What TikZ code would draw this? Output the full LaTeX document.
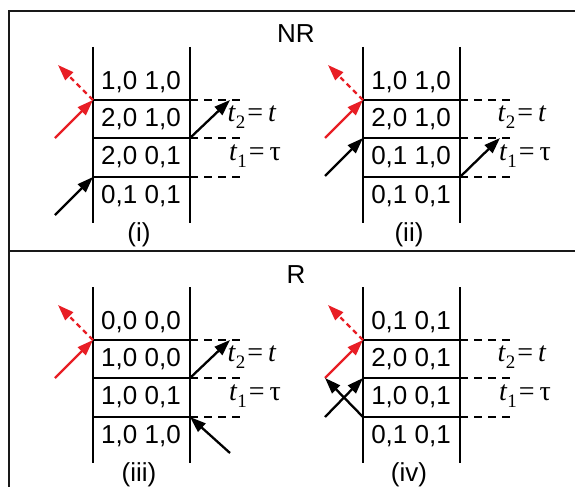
\documentclass[tikz,border=0pt]{standalone}
\usepackage{fontspec}
\setmainfont{Liberation Sans}
\newfontfamily\serifLib{Liberation Serif}
\usetikzlibrary{arrows.meta}
\definecolor{myred}{RGB}{232,30,37}
\newcommand\tsub[2]{\textit{#1}\raisebox{-7pt}{\fontsize{19}{19}\selectfont #2}\hspace{2pt}=\hspace{5pt}}
\newcommand\drawpanel[8]{%
 \begin{scope}[shift={(#1,#2)}]
  \coordinate (#3LT) at (93,47);  \coordinate (#3LE) at (93,223);
  \coordinate (#3RT) at (190,47); \coordinate (#3RE) at (190,223);
  \coordinate (#3LA) at (93,100); \coordinate (#3RA) at (190,100); \coordinate (#3EA) at (242,100);
  \coordinate (#3LB) at (93,138); \coordinate (#3RB) at (190,138); \coordinate (#3EB) at (242,138);
  \coordinate (#3LC) at (93,177); \coordinate (#3RC) at (190,177); \coordinate (#3EC) at (242,177);
  \draw[wall] (#3LT) -- (#3LE);
  \draw[wall] (#3RT) -- (#3RE);
  \draw[wall] (#3LA) -- (#3RA); \draw[ext] (#3RA) -- (#3EA);
  \draw[wall] (#3LB) -- (#3RB); \draw[ext] (#3RB) -- (#3EB);
  \draw[wall] (#3LC) -- (#3RC); \draw[ext] (#3RC) -- (#3EC);
  \node[cell] (#3r1) at (141,82) {#4};
  \node[cell] (#3r2) at (141,119.5) {#5};
  \node[cell] (#3r3) at (141,157.5) {#6};
  \node[cell] (#3r4) at (141,196.5) {#7};
  \node[cell] (#3lab) at (139,235) {#8};
  \node[tlab] (#3t2) at (252,117) {\tsub{t}{2}\textit{t}};
  \node[tlab] (#3t1) at (255,156) {\tsub{t}{1}τ};
  \coordinate (#3redS) at (55,138);
  \coordinate (#3redE) at (58,65);
  \draw[photon, myred] (#3redS) -- (#3LA);
  \draw[photon, myred, dash pattern=on 5pt off 4pt] (#3LA) -- (#3redE);
 \end{scope}}
\begin{document}
\begin{tikzpicture}[x=1pt,y=-1pt,
  frame/.style={line width=2.8pt, black!90},
  wall/.style={line width=2.5pt, line cap=butt},
  ext/.style={line width=2.3pt, dash pattern=on 8pt off 6pt},
  cell/.style={font=\fontsize{26}{30}\selectfont, inner sep=0pt},
  tlab/.style={font=\serifLib\fontsize{28}{30}\selectfont, inner sep=0pt},
  photon/.style={line width=2.3pt, -{Triangle[length=16pt,width=11pt]}},
  title/.style={font=\fontsize{26}{30}\selectfont, inner sep=0pt}]
\useasboundingbox (0,0) rectangle (575,487);
% frame
\coordinate (fTL) at (9,11);
\coordinate (fTR) at (575,11);
\coordinate (fML) at (9,251);
\coordinate (fMR) at (575,251);
\coordinate (fBL) at (9,487);
\draw[frame] (fTR) -- (fTL) -- (fBL);
\draw[frame] (fML) -- (fMR);
\node[title] (NR) at (296,34) {NR};
\node[title] (R) at (296,275) {R};
% panels
\drawpanel{0}{0}{p1}{1,0 1,0}{2,0 1,0}{2,0 0,1}{0,1 0,1}{(i)}
\drawpanel{270}{0}{p2}{1,0 1,0}{2,0 1,0}{0,1 1,0}{0,1 0,1}{(ii)}
\drawpanel{0}{240}{p3}{0,0 0,0}{1,0 0,0}{1,0 0,1}{1,0 1,0}{(iii)}
\drawpanel{270}{240}{p4}{0,1 0,1}{2,0 0,1}{1,0 0,1}{0,1 0,1}{(iv)}
% panel (i) black photons
\coordinate (p1in) at (55,215);
\coordinate (p1out) at (230,100);
\draw[photon] (p1in) -- (p1LC);
\draw[photon] (p1RB) -- (p1out);
% panel (ii)
\coordinate (p2in) at (325,176);
\coordinate (p2out) at (500,138);
\draw[photon] (p2in) -- (p2LB);
\draw[photon] (p2RC) -- (p2out);
% panel (iii)
\coordinate (p3out) at (230,340);
\coordinate (p3in) at (230,453);
\draw[photon] (p3RB) -- (p3out);
\draw[photon] (p3in) -- (p3RC);
% panel (iv)
\coordinate (p4in) at (325,417);
\coordinate (p4out) at (325,378);
\draw[photon] (p4in) -- (p4LB);
\draw[photon] (p4LC) -- (p4out);
\end{tikzpicture}
\end{document}
